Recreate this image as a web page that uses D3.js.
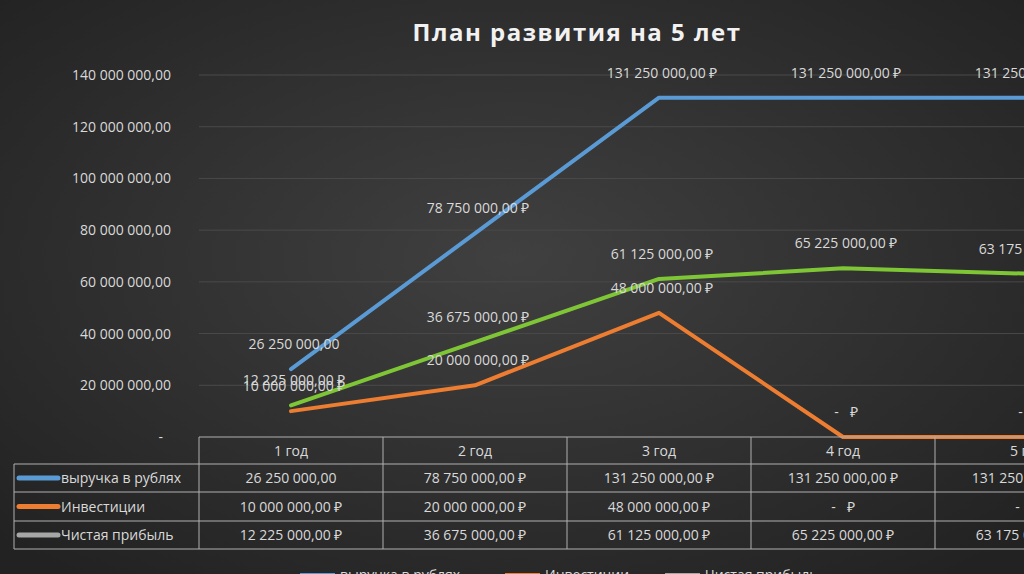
<!DOCTYPE html>
<html><head><meta charset="utf-8">
<script src="https://cdn.jsdelivr.net/npm/d3@7"></script>
<style>body{margin:0;overflow:hidden;background:#2b2b2b}</style></head>
<body><svg id="c" width="1024" height="574"></svg>
<script>
const categories=["1 год","2 год","3 год","4 год","5 год"];
const revenue=[26250000,78750000,131250000,131250000,131250000];
const invest=[10000000,20000000,48000000,0,0];
const profit=[12225000,36675000,61125000,65225000,63175000];
const seriesNames=["выручка в рублях","Инвестиции","Чистая прибыль"];
const yTicks=[0,20000000,40000000,60000000,80000000,100000000,120000000,140000000];

const svg=d3.select("#c");
const defs=svg.append("defs");
const g=defs.append("radialGradient").attr("id","bg").attr("cx","50%").attr("cy","45%").attr("r","70%");
g.append("stop").attr("offset","0%").attr("stop-color","#404040");
g.append("stop").attr("offset","100%").attr("stop-color","#222");
svg.append("rect").attr("width",1024).attr("height",574).attr("fill","url(#bg)");
const font="'Open Sans',Arial,sans-serif";
const txt="#d9d9d9";

const x=d3.scaleBand().domain(categories).range([199,1119]);
const y=d3.scaleLinear().domain([0,140000000]).range([437,75]);
const fmt=v=>v===0?"-":d3.format(",.2f")(v).replace(/,/g," ").replace(".",",");
const fmtR=v=>v===0?"-\u00a0\u00a0\u00a0₽":fmt(v)+" ₽";

svg.append("text").attr("x",577).attr("y",41).attr("text-anchor","middle").attr("fill","#f2f2f2")
 .attr("font-family",font).attr("font-weight","bold").attr("font-size",24).attr("letter-spacing",1.5).text("План развития на 5 лет");

yTicks.forEach(t=>{
 if(t>0) svg.append("line").attr("x1",199).attr("x2",1024).attr("y1",y(t)).attr("y2",y(t)).attr("stroke","#4a4a4a");
 svg.append("text").attr("x",t===0?163:171).attr("y",y(t)+5).attr("text-anchor","end").attr("fill",txt)
  .attr("font-family",font).attr("font-size",14).text(fmt(t));
});

const cx=c=>x(c)+x.bandwidth()/2;
const line=d3.line().x((d,i)=>cx(categories[i])).y(d=>y(d));
const series=[[revenue,"#5b9bd5",fmt],[invest,"#ed7d31",fmtR],[profit,"#7ec636",fmtR]];
series.forEach(([data,col])=>{
 svg.append("path").attr("d",line(data)).attr("fill","none").attr("stroke",col).attr("stroke-width",4).attr("stroke-linecap","round").attr("stroke-linejoin","round");
});
series.forEach(([data,col,f],si)=>{
 data.forEach((v,i)=>{
  const lab=si===0&&i>0?fmtR(v):f(v);
  svg.append("text").attr("x",cx(categories[i])+3).attr("y",y(v)-20).attr("text-anchor","middle")
   .attr("fill",txt).attr("font-family",font).attr("font-size",14).text(lab);
 });
});

// table
const rowsY=[437,464,492,521,549];
const tc="#b0b0b0";
svg.append("line").attr("x1",199).attr("x2",1024).attr("y1",437).attr("y2",437).attr("stroke",tc);
rowsY.slice(1).forEach(r=>svg.append("line").attr("x1",14).attr("x2",1024).attr("y1",r).attr("y2",r).attr("stroke",tc));
svg.append("line").attr("x1",14).attr("x2",14).attr("y1",464).attr("y2",549).attr("stroke",tc);
categories.forEach(c=>svg.append("line").attr("x1",x(c)).attr("x2",x(c)).attr("y1",437).attr("y2",549).attr("stroke",tc));
categories.forEach(c=>svg.append("text").attr("x",cx(c)).attr("y",456).attr("text-anchor","middle").attr("fill",txt)
 .attr("font-family",font).attr("font-size",14).text(c));
const legendCols=["#5b9bd5","#ed7d31","#a6a6a6"];
series.forEach(([data,col,f],si)=>{
 const ry=(rowsY[si+1]+rowsY[si+2])/2;
 svg.append("line").attr("x1",19).attr("x2",58).attr("y1",ry).attr("y2",ry).attr("stroke",legendCols[si]).attr("stroke-width",5).attr("stroke-linecap","round");
 svg.append("text").attr("x",61).attr("y",ry+5).attr("fill",txt).attr("font-family",font).attr("font-size",14).text(seriesNames[si]);
 data.forEach((v,i)=>{
  const lab=si===0&&i>0?fmtR(v):f(v);
  svg.append("text").attr("x",cx(categories[i])).attr("y",ry+5).attr("text-anchor","middle").attr("fill",txt)
   .attr("font-family",font).attr("font-size",14).text(lab);
 });
});
// bottom legend (cut off)
[[300,0],[505,1],[665,2]].forEach(([lx,si])=>{
 svg.append("line").attr("x1",lx).attr("x2",lx+35).attr("y1",575).attr("y2",575).attr("stroke",legendCols[si]).attr("stroke-width",4);
 svg.append("text").attr("x",lx+40).attr("y",580).attr("fill",txt).attr("font-family",font).attr("font-size",14).text(seriesNames[si]);
});
</script></body></html>
